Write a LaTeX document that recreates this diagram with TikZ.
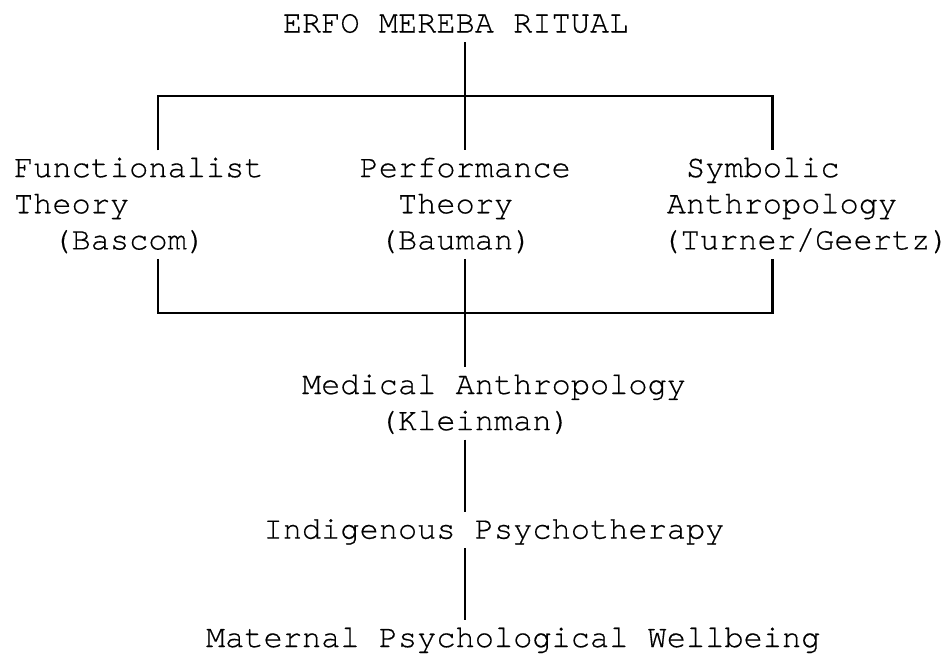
\documentclass[tikz,border=0pt]{standalone}
\usepackage{fontspec}
\newfontfamily\cour{texgyrecursor-regular.otf}[FakeBold=0.4]
\begin{document}
\begin{tikzpicture}[x=1pt,y=1pt,
  lbl/.style={anchor=north west, inner sep=0pt, outer sep=0pt,
    text height=26.65pt, text depth=9.5pt,
    font=\cour\fontsize{32}{36.15}\selectfont},
  conn/.style={line width=2.2pt}]
\useasboundingbox (0,0) rectangle (950,-654);
% text rows (monospace grid: col width 19.2, row pitch 36.15)
\node[lbl] (title) at (282.8,-5.85) {ERFO MEREBA RITUAL};
\node[lbl] (fn1) at (14,-150.45) {Functionalist};
\node[lbl] (fn2) at (14,-186.6) {Theory};
\node[lbl] (fn3) at (52.4,-222.75) {(Bascom)};
\node[lbl] (pf1) at (359.6,-150.45) {Performance};
\node[lbl] (pf2) at (398,-186.6) {Theory};
\node[lbl] (pf3) at (378.8,-222.75) {(Bauman)};
\node[lbl] (sy1) at (686,-150.45) {Symbolic};
\node[lbl] (sy2) at (666.8,-186.6) {Anthropology};
\node[lbl] (sy3) at (661.5,-222.75) {(Turner/Geertz)};
\node[lbl] (md1) at (302,-367.35) {Medical Anthropology};
\node[lbl] (md2) at (378.8,-403.5) {(Kleinman)};
\node[lbl] (ind) at (263.6,-511.95) {Indigenous Psychotherapy};
\node[lbl] (mat) at (206,-620.4) {Maternal Psychological Wellbeing};
% junctions
\coordinate (jt) at (465.2,-96.2);
\coordinate (jl) at (158,-96.2);
\coordinate (jr) at (772.4,-96.2);
\coordinate (bt) at (465.2,-313.1);
\coordinate (bl) at (158,-313.1);
\coordinate (br) at (772.4,-313.1);
% connectors
\draw[conn] (title.south -| jt) -- (pf1.north -| jt);
\draw[conn] (fn1.north -| jl) -- (jl) -- (jr) -- (sy1.north -| jr);
\draw[conn] (fn3.south -| bl) -- (bl) -- (br) -- (sy3.south -| br);
\draw[conn] (pf3.south -| bt) -- (md1.north -| bt);
\draw[conn] (md2.south -| bt) -- (ind.north -| bt);
\draw[conn] (ind.south -| bt) -- (mat.north -| bt);
\end{tikzpicture}
\end{document}
